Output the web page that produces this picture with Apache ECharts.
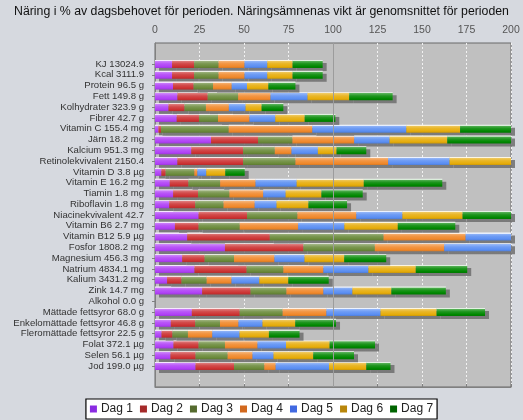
<!DOCTYPE html>
<html>
<head>
<meta charset="utf-8">
<script src="https://cdn.jsdelivr.net/npm/echarts@6/dist/echarts.min.js"></script>
<style>
html,body{margin:0;padding:0;background:#d6d9df;}
#c{width:523px;height:420px;}
</style>
</head>
<body>
<div id="c"></div>
<script>
const titleText = 'Näring i % av dagsbehovet för perioden. Näringsämnenas vikt är genomsnittet för perioden';
const categories = ['KJ 13024.9','Kcal 3111.9','Protein 96.5 g','Fett 149.8 g','Kolhydrater 323.9 g','Fibrer 42.7 g','Vitamin C 155.4 mg','Järn 18.2 mg','Kalcium 951.3 mg','Retinolekvivalent 2150.4','Vitamin D 3.8 µg','Vitamin E 16.2 mg','Tiamin 1.8 mg','Riboflavin 1.8 mg','Niacinekvivalent 42.7','Vitamin B6 2.7 mg','Vitamin B12 5.9 µg','Fosfor 1808.2 mg','Magnesium 456.3 mg','Natrium 4834.1 mg','Kalium 3431.2 mg','Zink 14.7 mg','Alkohol 0.0 g','Mättade fettsyror 68.0 g','Enkelomättade fettsyror 46.8 g','Fleromättade fettsyror 22.5 g','Folat 372.1 µg','Selen 56.1 µg','Jod 199.0 µg'];
const seriesNames = ['Dag 1','Dag 2','Dag 3','Dag 4','Dag 5','Dag 6','Dag 7'];
const dag1 = [9.6,9.6,10.1,12.6,7.6,12.2,1.9,31.5,20.4,12.6,3.6,8.3,10.2,8.0,24.5,11.2,18.1,39.3,15.3,22.2,6.8,26.5,0,20.7,8.9,3.7,10.4,8.7,22.8];
const dag2 = [12.4,12.4,11.6,17.0,9.0,12.5,1.5,26.4,29.1,36.9,2.4,10.5,14.0,14.6,27.2,13.3,46.4,44.1,12.6,29.3,8.1,27.2,0,26.9,13.7,6.1,14.1,14.1,21.6];
const dag3 = [13.7,13.7,10.9,17.1,12.0,10.7,38.0,19.3,17.8,29.4,16.1,17.8,17.6,15.9,28.3,23.1,63.9,40.1,16.5,20.6,14.1,20.1,0,24.1,13.9,8.7,14.8,18.0,17.0];
const dag4 = [14.6,14.6,10.5,18.2,12.9,17.7,47.0,34.7,9.4,52.1,1.7,19.9,19.0,17.5,33.1,32.8,46.1,39.0,22.7,22.5,14.0,20.8,0,24.6,10.4,13.7,18.3,14.0,6.4];
const dag5 = [12.8,12.8,8.6,20.8,9.4,14.5,52.8,19.9,14.8,34.5,5.0,23.1,12.6,12.3,25.9,26.0,30,40,16.9,25.3,15.6,16.3,0,30.4,13.5,15.3,16.0,11.8,30.0];
const dag6 = [14.2,14.2,12.0,23.4,9.0,16.5,30.2,32.4,10.5,40,10.7,37.7,20.1,17.9,33.8,30.0,30,40,22.3,26.6,16.3,21.9,0,31.5,18.4,16.5,24.5,22.3,20.9];
const dag7 = [16.9,16.9,15.2,24.4,12.2,17.2,35,40,16.7,30,10.9,44.1,23.2,21.7,35,32.3,30,40,23.6,28.9,22.7,30.6,0,27.2,22.9,17.2,25.5,22.9,13.6];
const xTicks = [0,25,50,75,100,125,150,175,200];

const allDays = [dag1,dag2,dag3,dag4,dag5,dag6,dag7];
const legendColors = ['#8a2be2','#a52a2a','#556b2f','#d2691e','#4169e1','#b8860b','#006400'];
const barColors = ['#b040f6','#cc3232','#6a8a3a','#f0882a','#5a8ef2','#e6ac0a','#008800'];

function mix(hex, w, t){
  const c = parseInt(hex.slice(1),16);
  let r=(c>>16)&255,g=(c>>8)&255,b=c&255;
  const wc = w==='w'?255:0;
  r=Math.round(r+(wc-r)*t);g=Math.round(g+(wc-g)*t);b=Math.round(b+(wc-b)*t);
  return 'rgb('+r+','+g+','+b+')';
}
function grad(c){
  return {type:'linear',x:0,y:0,x2:0,y2:1,colorStops:[
    {offset:0,color:mix(c,'w',0.92)},
    {offset:0.12,color:mix(c,'w',0.85)},
    {offset:0.14,color:mix(c,'w',0.35)},
    {offset:0.45,color:mix(c,'w',0.12)},
    {offset:0.8,color:c},
    {offset:1,color:mix(c,'k',0.12)}
  ]};
}

const FONT = '"Liberation Sans", Arial, sans-serif';
const series = allDays.map((d,i)=>({
  name: seriesNames[i], type:'bar', stack:'all', xAxisIndex:1, yAxisIndex:1,
  data: d, barWidth: 8, clip: true,
  itemStyle:{color: grad(barColors[i]), shadowColor:'rgba(110,110,110,0.85)', shadowBlur:0, shadowOffsetX:4, shadowOffsetY:3},
  emphasis:{disabled:true}, animation:false
}));
series.unshift({
  type:'scatter', xAxisIndex:0, yAxisIndex:0, data:[], silent:true,
  markLine:{silent:true, symbol:'none', animation:false, label:{show:false},
    lineStyle:{color:'#9c9c9c', type:'solid', width:1}, data:[{xAxis:100}]}
});

const chart = echarts.init(document.getElementById('c'), null, {renderer:'canvas'});
chart.setOption({
  backgroundColor:'#d6d9df',
  animation:false,
  textStyle:{fontFamily:FONT},
  title:{text:titleText, left:'center', top:1, textStyle:{fontSize:12.3, fontWeight:'normal', color:'#111', fontFamily:FONT}},
  legend:{
    data: seriesNames.map((n,i)=>({name:n, itemStyle:{color:legendColors[i]}})),
    bottom:1, left:'center', itemWidth:7, itemHeight:7, itemGap:7,
    icon:'rect', backgroundColor:'#ffffff', borderColor:'#000', borderWidth:1.2,
    padding:[4,4,4,4],
    textStyle:{fontSize:12, color:'#222', fontFamily:FONT, padding:[0,0,0,-1]},
    selectedMode:false
  },
  grid:[
    {left:155, width:356, top:43, height:344, show:true, backgroundColor:'#c0c0c0', borderColor:'#686868', borderWidth:1},
    {left:155, width:356, top:58.6, height:312.8}
  ],
  xAxis:[
    {type:'value', gridIndex:0, position:'top', min:0, max:200, interval:25, offset:5,
      axisLine:{show:true, lineStyle:{color:'#808080'}},
      axisTick:{show:true, length:3, lineStyle:{color:'#808080'}},
      axisLabel:{color:'#555', fontSize:10.5, margin:2, fontFamily:FONT,
        formatter:v=>xTicks.indexOf(v)>=0?String(v):''},
      splitLine:{show:true, lineStyle:{color:'#f2f2f2', type:[2,2], width:1}}
    },
    {type:'value', gridIndex:1, min:0, max:200, show:false, splitLine:{show:false}}
  ],
  yAxis:[
    {type:'value', gridIndex:0, min:0, max:1, offset:3,
      axisLine:{show:true, lineStyle:{color:'#808080'}},
      axisTick:{show:false}, axisLabel:{show:false}, splitLine:{show:false}},
    {type:'category', gridIndex:1, data:categories, inverse:true, offset:3,
      axisLine:{show:false},
      axisTick:{show:true, alignWithLabel:true, length:3, lineStyle:{color:'#808080'}},
      axisLabel:{color:'#333', fontSize:9.6, margin:8, fontFamily:FONT, interval:0},
      splitLine:{show:false}}
  ],
  series: series
});
</script>
</body>
</html>
